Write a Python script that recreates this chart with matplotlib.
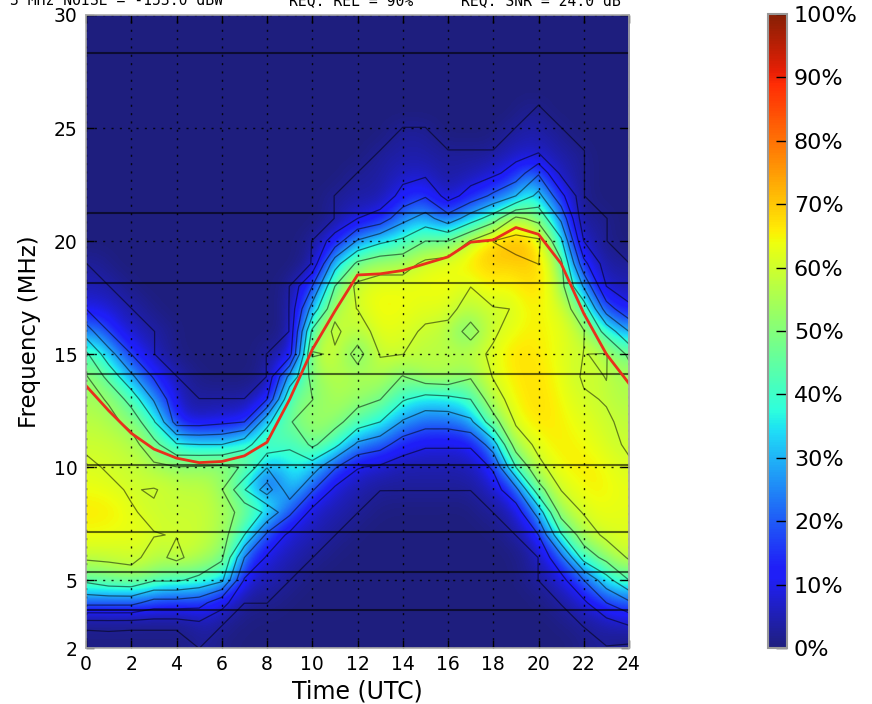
import numpy as np
import matplotlib
matplotlib.use("Agg")
import matplotlib.pyplot as plt
from matplotlib.colors import ListedColormap

hours = list(range(25))
freqs = list(range(2, 31))

# reliability (%) per hour; each list runs over 2..30 MHz
h00 = [.8,3.6,33,52,61,65,66,63,61,59.2,57,54,51,42,25,10,5,3.1,0,0,0,0,0,0,0,0,0,0,0]
h01 = [.8,3.8,33,56,61,64,65,61,59.5,58,53,49,37,24,10,6,3.1,0,0,0,0,0,0,0,0,0,0,0,0]
h02 = [.8,3.6,33,57,61.5,63,60.4,59.5,58,54,47,36,22,10,5,3.1,0,0,0,0,0,0,0,0,0,0,0,0,0]
h03 = [.8,3.6,26,51,58,60.2,59,60.6,52,43,31,19,9,3.1,3.1,0,0,0,0,0,0,0,0,0,0,0,0,0,0]
h04 = [.8,3.6,26,51,61.5,59.8,59,57,50.3,31,6,3.1,3.1,0,0,0,0,0,0,0,0,0,0,0,0,0,0,0,0]
h05 = [3.05,7,24,48,57,59,59,58,50.8,30,6,3.1,0,0,0,0,0,0,0,0,0,0,0,0,0,0,0,0,0]
h06 = [.5,3.05,13,42,51.5,54,54,50.5,51.5,30,8,3.1,0,0,0,0,0,0,0,0,0,0,0,0,0,0,0,0,0]
h07 = [.2,.5,3.05,9,20,40,47,30.5,49.5,37,10,3.1,0,0,0,0,0,0,0,0,0,0,0,0,0,0,0,0,0]
h08 = [0,.5,3.05,6,9,18,38,15,30.5,46,38,10,3.1,3.1,0,0,0,0,0,0,0,0,0,0,0,0,0,0,0]
h09 = [0,0,.5,3.05,5.5,8,22,36,39,40.3,49.5,49,33,6,3.1,3.1,3.05,0,0,0,0,0,0,0,0,0,0,0,0]
h10 = [0,0,0,.5,3.05,5.5,7,21,35,52,54,49.8,53,61,52,34,20,3.2,3.1,0,0,0,0,0,0,0,0,0,0]
h11 = [0,0,0,0,.8,3.05,5.5,8,21,43,53,56,57,59,61.5,58,50,36,14,3.1,3.1,0,0,0,0,0,0,0,0]
h12 = [0,0,0,0,0,.8,3.05,5,10.5,28,45,53,55,46,56,60.1,62,52,31,10,4,3.1,0,0,0,0,0,0,0]
h13 = [0,0,0,0,0,0,.8,3.1,8.5,24,40,50.2,57,60.5,63,65,64,56,38,14,4,3.1,3.05,0,0,0,0,0,0]
h14 = [0,0,0,0,0,0,.5,3.1,5,15,29,41,49.5,60.1,62,64,64,56,42,27,13,7,4,3.1,0,0,0,0,0]
h15 = [0,0,0,0,0,0,.5,3.1,5,11,24,36,56,57,59,62,64,62,50,34,19,8,4,3.1,0,0,0,0,0]
h16 = [0,0,0,0,0,0,.5,3.1,5,11,24,37,57,57,58,62,65,64,50,24,6,3.1,3.1,0,0,0,0,0,0]
h17 = [0,0,0,0,0,0,.3,3.1,5,11,28,40,51,58,45,57,60.1,66,60.5,35,14,5,3.1,0,0,0,0,0,0]
h18 = [0,0,0,0,0,.5,3.05,6,11,25,46,56,60.5,61,59,59.5,65,69,70.05,45,22,8,3.1,0,0,0,0,0,0]
h19 = [0,0,0,0,.5,3.05,5,17,40,55,61,64,65.5,67,63,60.2,64,68,73,62,30,14,6,3.1,0,0,0,0,0]
h20 = [0,0,.5,3.05,3.05,10,24,46,58,62,67,67.5,67.5,67,66,66,68,70.1,71.5,57,43,29,8,5,3.05,0,0,0,0]
h21 = [0,.8,3.2,7,17,39,54,60.2,64,66,66.5,66,65,64,64,63,63,62,52,38,23,8,4.5,3.1,0,0,0,0,0]
h22 = [.5,3.2,8,20,44,55,60.6,64,66,65,63,61,59,59.9,60.3,56,39,23,10,3.3,3.1,3.1,3.1,0,0,0,0,0,0]
h23 = [2.8,5,20,36,53,62,64,66,65,62,61,59.5,60.1,60.4,47,25,10,5,3.1,3.1,0,0,0,0,0,0,0,0,0]
h24 = [1.5,10,28,50,61,62,63,63,61,59,58,56,55,48,30,12,5,3.1,0,0,0,0,0,0,0,0,0,0,0]

muf = [13.6,12.5,11.5,10.8,10.4,10.2,10.25,10.5,11.1,13.0,15.2,16.9,18.5,18.55,18.7,19.0,
       19.3,19.95,20.05,20.6,20.3,19.0,16.8,15.0,13.7]
bands = [3.7, 5.36, 7.13, 10.1, 14.1, 18.13, 21.25, 28.3]
levels = [3, 10, 20, 30, 40, 50, 60, 70]
xticks = list(range(0, 25, 2))
yticks = [2, 5, 10, 15, 20, 25, 30]
cticks = list(range(0, 101, 10))
ctick_labels = [f"{v}%" for v in cticks]
title_parts = ["3 MHz NOISE = -153.0 dBW", "REQ. REL = 90%", "REQ. SNR = 24.0 dB"]

rel = np.array([h00,h01,h02,h03,h04,h05,h06,h07,h08,h09,h10,h11,h12,h13,h14,h15,h16,h17,h18,h19,
                h20,h21,h22,h23,h24]).T

# jet, with the washed-out low end of the reference
base = plt.get_cmap("jet")(np.linspace(0, 1, 256))[:, :3]
muted = base.copy()
muted[:, :2] = base[:, :2] + 0.12 * (1 - base[:, :2]) ** 2
muted[:, 2] = base[:, 2] * 0.95 + 0.02
cmap = ListedColormap(muted)

W, H = 872, 704
fig = plt.figure(figsize=(W/100, H/100), dpi=100, facecolor="white")
ax = fig.add_axes([86/W, 1-648/H, (629-86)/W, (648-15)/H])
im = ax.imshow(rel, origin="lower", aspect="auto", extent=(0, 24, 2, 30), cmap=cmap,
               vmin=0, vmax=100, interpolation="bicubic")
ax.contour(hours, freqs, rel, levels=levels, colors="black", linewidths=0.9, alpha=0.5)
for b in bands:
    ax.axhline(b, color="black", lw=1.5, alpha=0.6)
ax.plot(hours, muf, color="#e8301c", lw=2)
ax.set_xlim(0, 24)
ax.set_ylim(2, 30)
ax.set_xticks(xticks)
ax.set_yticks(yticks)
ax.grid(True, color="black", lw=1.0, ls=(0, (1.5, 4.5)), alpha=0.85)
ax.tick_params(axis="both", direction="in", top=True, right=True, length=6, width=1,
               labelsize=13.5)
ax.tick_params(axis="y", pad=6)
ax.tick_params(axis="x", pad=5)
for s in ax.spines.values():
    s.set_color("#aaaaaa")
    s.set_linewidth(1.2)
ax.set_xlabel("Time (UTC)", fontsize=17, labelpad=4)
ax.set_ylabel("Frequency (MHz)", fontsize=16.5, labelpad=9)

cax = fig.add_axes([768/W, 1-648/H, 19/W, (648-14)/H])
cb = fig.colorbar(im, cax=cax, ticks=cticks)
cb.ax.set_yticklabels(ctick_labels)
cb.ax.tick_params(direction="in", length=8, width=1, labelsize=16, pad=5, color="black")
cb.outline.set_edgecolor("#999999")
cb.outline.set_linewidth(1.5)

for txt, px in zip(title_parts, [10, 289, 461]):
    fig.text(px/W, 1-5/H, txt, family="DejaVu Sans Mono", fontsize=10.6, va="baseline", ha="left")

fig.savefig("out.png", dpi=100, facecolor="white")
